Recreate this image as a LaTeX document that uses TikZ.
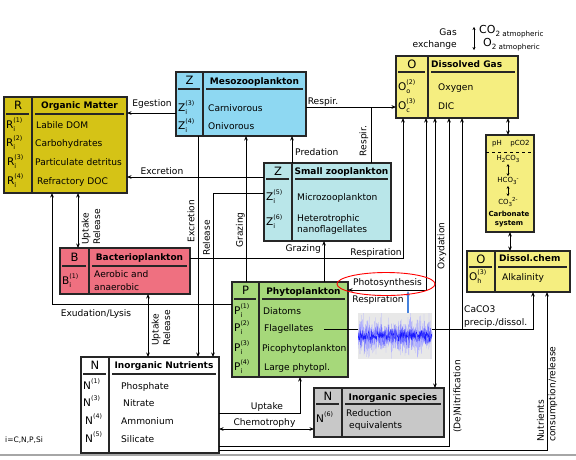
\documentclass[tikz,border=0pt]{standalone}
\usepackage{fontspec}
\setmainfont{DejaVu Sans}
\usetikzlibrary{arrows.meta,shapes.geometric}
\definecolor{Rcol}{RGB}{213,195,22}
\definecolor{Zmcol}{RGB}{142,216,242}
\definecolor{Zscol}{RGB}{185,230,233}
\definecolor{Ocol}{RGB}{245,238,128}
\definecolor{Bcol}{RGB}{239,112,128}
\definecolor{Pcol}{RGB}{166,216,122}
\definecolor{Nicol}{RGB}{200,200,200}
\definecolor{noisebg}{RGB}{232,232,232}
\definecolor{arrblue}{RGB}{70,130,220}
\newcommand\ftx{\fontsize{9.1}{11.5}\selectfont}
\newcommand\fhd{\fontsize{9}{11}\selectfont\bfseries}
\newcommand\fbg{\fontsize{11.5}{13}\selectfont}
\newcommand\fsm{\fontsize{7}{8.5}\selectfont}
\newcommand\vlab[3]{{\fontsize{10.5}{12}\selectfont #1}\rlap{\raisebox{-0.5ex}{\fontsize{6.5}{7}\selectfont #2}}\raisebox{1.1ex}{\fontsize{6.3}{7}\selectfont #3}}
\newcommand\chsub[1]{\raisebox{-0.4ex}{\fontsize{5.5}{6}\selectfont #1}}
\newcommand\chsup[1]{\raisebox{0.7ex}{\fontsize{5.5}{6}\selectfont #1}}
\tikzset{
 cbox/.style={draw=black!85, line width=1.1pt, inner sep=0, outer sep=0},
 divline/.style={draw=black!85, line width=1.1pt},
 txt/.style={inner sep=0, anchor=west, font=\ftx, text height=6.6pt, text depth=0pt},
 hdr/.style={inner sep=0, font=\fhd, text height=6.6pt, text depth=0pt},
 bigl/.style={inner sep=0, font=\fbg, text height=8.4pt, text depth=0pt},
 vl/.style={inner sep=0, anchor=west, text height=7.6pt, text depth=0pt},
 rlab/.style={inner sep=0, rotate=90, font=\ftx, text height=6.6pt, text depth=0pt},
 rlabtwo/.style={inner sep=0, rotate=90, font=\ftx, align=left},
 csm/.style={inner sep=0, font=\fsm},
 conn/.style={draw=black, line width=0.8pt},
}
\newcommand\compbox[8]{%
 \node[cbox, fill=#8, minimum width={(#4)-(#2)}, minimum height={(#5)-(#3)}, anchor=north west] (#1) at (#2,#3) {};
 \draw[divline] (#6,#3) -- (#6,#5);
 \draw[divline] ({#2+2},#7) -- ({#6-3},#7) ({#6+3},#7) -- ({#4-3},#7);
}
\begin{document}
\begin{tikzpicture}[x=1pt,y=-1pt,>={Stealth[length=4.5pt,width=3.6pt]}]
\useasboundingbox (0,0) rectangle (576,459);
\fill[white] (0,0) rectangle (576,459);
\draw[black!35, line width=1.6pt] (0,455) -- (576,455);

% ---------- boxes
\compbox{R}{4}{97}{127}{193}{32}{114}{Rcol}
\compbox{Zm}{176}{72}{306}{136}{203}{89}{Zmcol}
\compbox{Zs}{264}{163}{391}{241}{292}{179}{Zscol}
\compbox{O}{396}{56}{518}{118}{428}{72}{Ocol}
\compbox{B}{60}{248}{190}{294}{89}{266}{Bcol}
\compbox{P}{232}{282}{348}{377}{259}{299}{Pcol}
\compbox{N}{81}{357}{219}{453}{109}{374}{white}
\compbox{Ni}{314}{388}{444}{437}{342}{404}{Nicol}
\compbox{Dc}{467}{251}{570}{292}{495}{267}{Ocol}
\node[cbox, fill=Ocol, minimum width=48, minimum height=97, anchor=north west] (Cs) at (486,135) {};
\draw[black, line width=0.7pt, dashed] (Cs.west |- 0,152) -- (Cs.east |- 0,152);

% ---------- R texts
\node[bigl] (Rl) at (18,105.5) {R};
\node[hdr] (Rh) at (79.5,105.5) {Organic Matter};
\node[vl] (R1) at (6,125) {\vlab{R}{i}{(1)}};
\node[vl] (R2) at (6,143) {\vlab{R}{i}{(2)}};
\node[vl] (R3) at (7,162) {\vlab{R}{i}{(3)}};
\node[vl] (R4) at (7,181) {\vlab{R}{i}{(4)}};
\node[txt] (Rt1) at (36,125) {Labile DOM};
\node[txt] (Rt2) at (35,143) {Carbohydrates};
\node[txt] (Rt3) at (35,162) {Particulate detritus};
\node[txt] (Rt4) at (37,181) {Refractory DOC};

% ---------- Zm texts
\node[bigl] (Zml) at (189.5,80.5) {Z};
\node[hdr] (Zmh) at (254.5,81) {Mesozooplankton};
\node[vl] (Zm3) at (178,108) {\vlab{Z}{i}{(3)}};
\node[vl] (Zm4) at (178,126) {\vlab{Z}{i}{(4)}};
\node[txt] (Zmt1) at (208,108) {Carnivorous};
\node[txt] (Zmt2) at (208,126) {Onivorous};

% ---------- Zs texts
\node[bigl] (Zsl) at (278,171) {Z};
\node[hdr] (Zsh) at (341.5,171.5) {Small zooplankton};
\node[vl] (Zs5) at (266,197) {\vlab{Z}{i}{(5)}};
\node[vl] (Zs6) at (266,222) {\vlab{Z}{i}{(6)}};
\node[txt] (Zst1) at (297,197) {Microzooplankton};
\node[txt] (Zst2) at (297,218) {Heterotrophic};
\node[txt] (Zst3) at (297,229) {nanoflagellates};

% ---------- O texts
\node[bigl] (Ol) at (412,64) {O};
\node[hdr, anchor=west] (Oh) at (431,64) {Dissolved Gas};
\node[vl] (Oo) at (398,87) {\vlab{O}{o}{(2)}};
\node[vl] (Oc) at (398,106) {\vlab{O}{c}{(3)}};
\node[txt] (Ot1) at (438,87) {Oxygen};
\node[txt] (Ot2) at (438,106) {DIC};

% ---------- B texts
\node[bigl] (Bl) at (74.5,257) {B};
\node[hdr] (Bh) at (139.5,257.5) {Bacterioplankton};
\node[vl] (B1) at (62,281) {\vlab{B}{i}{(1)}};
\node[txt] (Bt1) at (94,274) {Aerobic and};
\node[txt] (Bt2) at (94,287) {anaerobic};

% ---------- P texts
\node[bigl] (Pl) at (245.5,290.5) {P};
\node[hdr] (Ph) at (303.5,291) {Phytoplankton};
\node[vl] (P1) at (234,311) {\vlab{P}{i}{(1)}};
\node[vl] (P2) at (234,328) {\vlab{P}{i}{(2)}};
\node[vl] (P3) at (234,348) {\vlab{P}{i}{(3)}};
\node[vl] (P4) at (234,367) {\vlab{P}{i}{(4)}};
\node[txt] (Pt1) at (263,311) {Diatoms};
\node[txt] (Pt2) at (264,328) {Flagellates};
\node[txt] (Pt3) at (262,348) {Picophytoplankton};
\node[txt] (Pt4) at (264,367) {Large phytopl.};

% ---------- N texts
\node[bigl] (Nl) at (95,365.5) {N};
\node[hdr] (Nh) at (164,365.5) {Inorganic Nutrients};
\node[vl] (N1) at (83,386) {\vlab{N}{}{(1)}};
\node[vl] (N3) at (83,403) {\vlab{N}{}{(3)}};
\node[vl] (N4) at (85,421) {\vlab{N}{}{(4)}};
\node[vl] (N5) at (85,439) {\vlab{N}{}{(5)}};
\node[txt] (Nt1) at (121,386) {Phosphate};
\node[txt] (Nt2) at (123,403) {Nitrate};
\node[txt] (Nt3) at (121,421) {Ammonium};
\node[txt] (Nt4) at (121,439) {Silicate};

% ---------- Ni texts
\node[bigl] (Nil) at (328,396) {N};
\node[hdr] (Nih) at (393,397) {Inorganic species};
\node[vl] (N6) at (316,419) {\vlab{N}{}{(6)}};
\node[txt] (Nit1) at (346,413) {Reduction};
\node[txt] (Nit2) at (349,425) {equivalents};

% ---------- Dissol.chem texts
\node[bigl] (Dcl) at (481,259) {O};
\node[hdr, anchor=west] (Dch) at (499,258.5) {Dissol.chem};
\node[vl] (Dh) at (469,277) {\vlab{O}{h}{(3)}};
\node[txt] (Dct) at (502,277) {Alkalinity};

% ---------- carbonate system
\node[csm] (ph) at (497,144) {pH};
\node[csm] (pco) at (520,144) {pCO2};
\node[csm] (h2) at (508,159) {H\chsub{2}CO\chsub{3}};
\node[csm] (hc) at (508,181) {HCO\chsub{3}\chsup{-}};
\node[csm] (co3) at (508,202) {CO\chsub{3}\chsup{2-}};
\node[csm, font=\fsm\bfseries, align=center] (csys) at (509,219) {Carbonate\\system};
\draw[<->, line width=0.9pt, >={Stealth[length=2.6pt,width=3pt]}] ([yshift=-1.5pt]h2.south) -- ([yshift=1.5pt]hc.north);
\draw[<->, line width=0.9pt, >={Stealth[length=2.6pt,width=3pt]}] ([yshift=-1.5pt]hc.south) -- ([yshift=1.5pt]co3.north);

% ---------- gas exchange
\node[txt, anchor=east] (gas1) at (457,32) {Gas};
\node[txt, anchor=east] (gas2) at (457,44) {exchange};
\coordinate (ga) at (474,27);
\coordinate (gb) at (474,50);
\draw[<->, line width=0.9pt, >={Stealth[length=3pt,width=3.2pt]}] (ga) -- (gb);
\node[inner sep=0, anchor=west] (co2) at (479,32) {\fontsize{11}{13}\selectfont CO\raisebox{-0.55ex}{\fontsize{7.2}{8}\selectfont 2 atmopheric}};
\node[inner sep=0, anchor=west] (o2) at (483,45) {\fontsize{11}{13}\selectfont O\raisebox{-0.55ex}{\fontsize{7.2}{8}\selectfont 2 atmopheric}};

% ---------- connectors
\draw[conn,->] (Zm.west |- 0,113) -- (R.east |- 0,113);
\node[txt, anchor=center] (egl) at (152,103) {Egestion};
\draw[conn,->] (Zs.west |- 0,177) -- (R.east |- 0,177);
\node[txt, anchor=center] (exl) at (162,171) {Excretion};
\draw[conn,->] (Zm.south -| 198,0) -- (N.north -| 198,0);
\node[rlab] (exv) at (191,221) {Excretion};
\draw[conn,->] (Zs.west |- 0,193) -| (N.north -| 213,0);
\node[rlab] (rlv) at (206.5,238) {Release};
\draw[conn,->] (P.north -| 246,0) -- (Zm.south -| 246,0);
\node[rlab] (grv) at (239.5,230) {Grazing};
\draw[conn,->] (Zs.north -| 292,0) -- (Zm.south -| 292,0);
\node[txt] (prl) at (295,152) {Predation};
\draw[conn,->] (Zm.east |- 0,107) -- (O.west |- 0,107);
\node[txt, anchor=center] (rsl) at (323,101) {Respir.};
\draw[conn] (Zs.north -| 371,0) -- (371,107);
\node[rlab] (rsv) at (363,141) {Respir.};
\draw[conn,->] (P.north -| 324,0) -- (Zs.south -| 324,0);
\node[txt, anchor=east] (grl) at (321,248) {Grazing};
\draw[conn,->] (B.east |- 0,258) -| (O.south -| 403,0);
\node[txt, anchor=center] (rspl) at (376,252) {Respiration};
\draw[conn,<->] (P.east |- 0,290) -| (O.south -| 426,0);
\node[txt, anchor=center] (phl) at (387.5,282) {Photosynthesis};
\node[txt, anchor=center] (rsp2) at (378,299) {Respiration};
\draw[conn,<->] (Ni.north -| 435,0) -- (O.south -| 435,0);
\node[rlab] (oxl) at (441,246) {Oxydation};
\draw[conn,->] (N.east |- 0,446) -| (O.south -| 449,0);
\node[rlab, anchor=west] (dnl) at (457,433) {(De)Nitrification};
\coordinate (fs) at (324,329);
\draw[conn,->] (fs) -| (O.south -| 462,0);
\draw[conn,->] (fs -| 462,0) -| (Dc.south -| 533,0);
\node[txt] (ca1) at (464,309) {CaCO3};
\node[txt] (ca2) at (464,322) {precip./dissol.};
\draw[conn,->] (N.east |- 0,450) -| (Dc.south -| 547,0);
\node[rlabtwo, anchor=west] (nul) at (547,442) {Nutrients\\consumption/release};
\draw[conn,<->] (N.east |- 0,429) -- (Ni.west |- 0,429);
\node[txt, anchor=center] (chl) at (264.5,422) {Chemotrophy};
\draw[conn,->] (N.east |- 0,413) -| (P.south -| 300,0);
\node[txt, anchor=center] (upl) at (267,406) {Uptake};
\draw[conn,<->] (B.south -| 148,0) -- (N.north -| 148,0);
\node[rlabtwo, anchor=west] (urbn) at (161,346) {Uptake\\Release};
\draw[conn,<->] (R.south -| 78,0) -- (B.north -| 78,0);
\node[rlabtwo, anchor=west] (urrb) at (91,245) {Uptake\\Release};
\draw[conn,->] (P.west |- 0,304) -| (R.south -| 52,0);
\node[txt, anchor=center] (exul) at (96,313) {Exudation/Lysis};
\draw[conn,<->] (O.south -| 508,0) -- (Cs.north -| 508,0);
\draw[conn,<->] (Cs.south -| 510,0) -- (Dc.north -| 510,0);

% ---------- noise signal
\node[fill=noisebg, inner sep=0, minimum width=74, minimum height=46, anchor=north west] (noise) at (358,313) {};
\begin{scope}
\clip (358,313) rectangle (432,359);
\pgfmathsetseed{42}
\draw[blue!30, line width=0.2pt] (358,336) \foreach \i in {1,...,440} { -- ({358+\i/6},{336+10*(rand+rand+rand)}) };
\draw[blue!55, line width=0.25pt] (358,336) \foreach \i in {1,...,440} { -- ({358+\i/6},{336+6.5*(rand+rand+rand)}) };
\draw[blue!90, line width=0.25pt] (358,336) \foreach \i in {1,...,300} { -- ({358+\i/4},{336+4*(rand+rand)}) };
\end{scope}
\draw[->, arrblue, line width=1.2pt] (noise.north -| 408,0) -- (408,291);
\node[ellipse, draw=red, line width=0.9pt, minimum width=98, minimum height=23, inner sep=0] (ell) at (386,284) {};

% ---------- footnote
\node[inner sep=0, anchor=west, font=\fontsize{7.5}{9}\selectfont] (ilab) at (5,440) {i=C,N,P,Si};
\end{tikzpicture}
\end{document}
